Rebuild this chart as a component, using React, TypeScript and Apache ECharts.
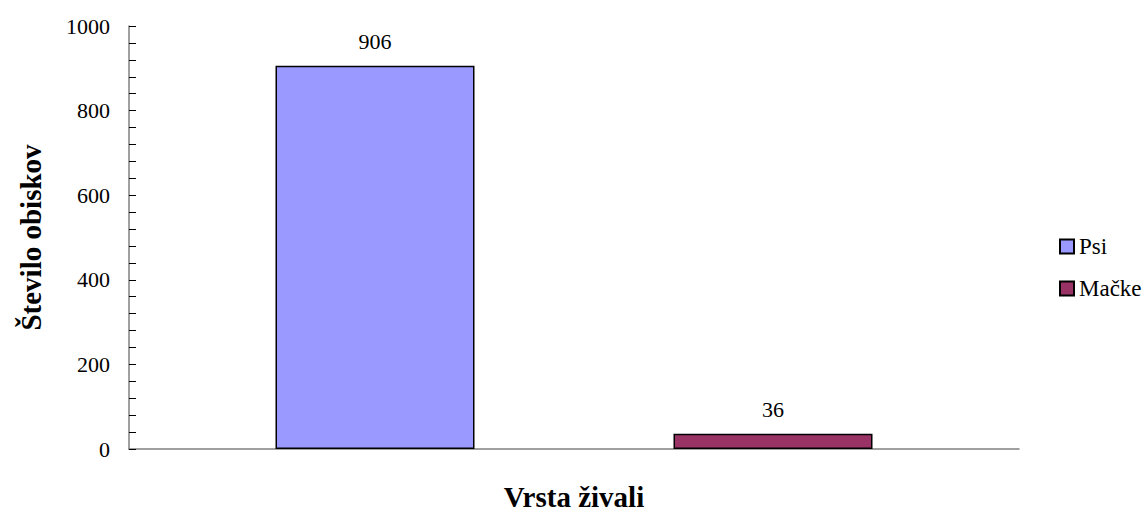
import React, { useEffect, useRef } from "react";
import * as echarts from "echarts";

const categories = [""];
const seriesNames = ["Psi", "Mačke"];
const psiValues = [906];
const mackeValues = [36];
const seriesColors = ["#9999FF", "#993366"];
const yTicks = { min: 0, max: 1000, interval: 200 };
const xTitle = "Vrsta živali";
const yTitle = "Število obiskov";

const FONT = "'Liberation Serif', 'Times New Roman', serif";

export default function App() {
  const ref = useRef<HTMLDivElement>(null);
  useEffect(() => {
    if (!ref.current) return;
    document.body.style.margin = "0";
    document.body.style.overflow = "hidden";
    const chart = echarts.init(ref.current, undefined, { renderer: "svg", width: 1146, height: 516 });
    const mk = (name: string, data: number[], color: string) => ({
      name,
      type: "bar",
      data,
      barWidth: 199,
      barGap: "100%",
      itemStyle: { color, borderColor: "#000", borderWidth: 1.5 },
      label: {
        show: true,
        position: "top",
        distance: 13,
        color: "#000",
        fontFamily: FONT,
        fontSize: 22,
      },
    });
    chart.setOption({
      animation: false,
      backgroundColor: "#fff",
      textStyle: { fontFamily: FONT },
      grid: { left: 129, right: 127, top: 26, bottom: 60, containLabel: false },
      legend: {
        orient: "vertical",
        left: 1054,
        top: 230,
        itemWidth: 14,
        itemHeight: 14,
        itemGap: 19,
        icon: "rect",
        data: seriesNames,
        textStyle: { fontFamily: FONT, fontSize: 23, color: "#000" },
      },
      xAxis: {
        type: "category",
        data: categories,
        name: xTitle,
        nameLocation: "middle",
        nameGap: 33,
        nameTextStyle: { fontFamily: FONT, fontSize: 29, fontWeight: "bold", color: "#000" },
        axisLine: { lineStyle: { color: "#808080", width: 1.5 } },
        axisTick: { show: false },
        axisLabel: { show: false },
      },
      yAxis: {
        type: "value",
        min: yTicks.min,
        max: yTicks.max,
        interval: yTicks.interval,
        name: yTitle,
        nameLocation: "middle",
        nameGap: 84,
        nameTextStyle: { fontFamily: FONT, fontSize: 29, fontWeight: "bold", color: "#000" },
        axisLine: { show: true, lineStyle: { color: "#808080", width: 1.5 } },
        axisTick: { show: true, inside: true, length: 7, lineStyle: { color: "#000", width: 1 } },
        minorTick: { show: true, splitNumber: 5, length: 7, lineStyle: { color: "#000", width: 1 } },
        splitLine: { show: false },
        axisLabel: {
          fontFamily: FONT,
          fontSize: 22,
          color: "#000",
          margin: 19,
          formatter: (v: number) => String(v),
        },
      },
      series: [
        mk(seriesNames[0], psiValues, seriesColors[0]),
        mk(seriesNames[1], mackeValues, seriesColors[1]),
      ],
    });
    return () => chart.dispose();
  }, []);
  return <div ref={ref} style={{ width: 1146, height: 516 }} />;
}
